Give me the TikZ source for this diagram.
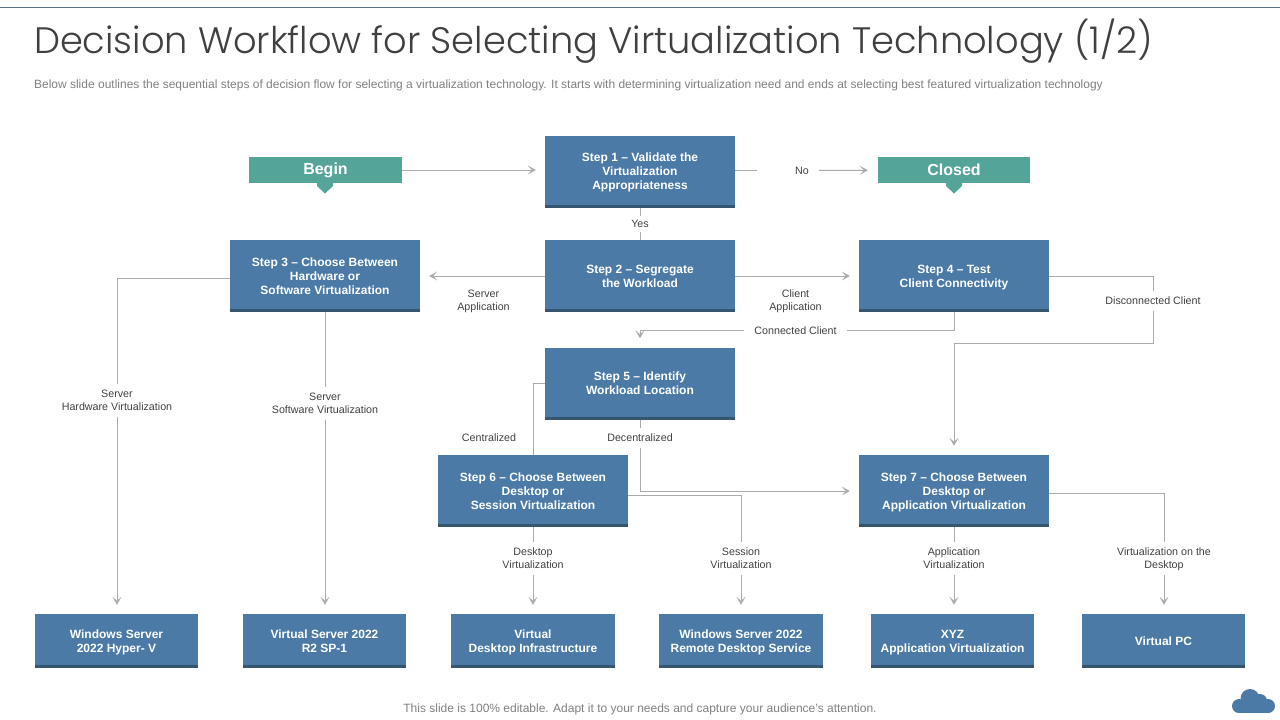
\documentclass[tikz,border=0pt]{standalone}
\usepackage{fontspec}
\setmainfont{Liberation Sans}
\newfontfamily\titlefont{Poppins Light}
\usepackage{xcolor}
\usetikzlibrary{arrows.meta}
\definecolor{stepblue}{HTML}{4A7AA5}
\definecolor{stepdark}{HTML}{36556F}
\definecolor{beginteal}{HTML}{55A49A}
\definecolor{flowgray}{HTML}{ABABAB}
\definecolor{labelgray}{HTML}{404040}
\definecolor{rulegray}{HTML}{5B6F80}

\begin{document}
\begin{tikzpicture}[x=1pt, y=-1pt,
	stepbox/.style={rectangle, fill=stepblue, text=white, inner sep=0pt, align=center, text depth=0pt, minimum width=190pt, minimum height=72pt, font=\fontsize{12}{14}\selectfont\bfseries,
		path picture={\fill[stepdark] (path picture bounding box.south west) rectangle ([yshift=3pt]path picture bounding box.south east);}},
	endbox/.style={stepbox, minimum width=163.5pt, minimum height=54pt},
	startbox/.style={rectangle, fill=beginteal, text=white, inner sep=0pt, minimum width=153pt, minimum height=26pt, font=\fontsize{16}{18}\selectfont\bfseries},
	flowlabel/.style={align=center, inner xsep=10pt, inner ysep=6pt, text depth=0pt, text=labelgray, font=\fontsize{10.7}{13}\selectfont},
	flow/.style={draw=flowgray, line width=1pt},
	flowarrow/.style={flow, -{Stealth[length=8pt, width=9pt, inset=4pt]}, shorten >=9pt}]
			\useasboundingbox (0, 0) rectangle (1280, 720);
			\coordinate(ruleL) at (0, 7);
			\coordinate(ruleR) at (1280, 7);
			\draw[rulegray, line width=0.8pt] (ruleL) -- (ruleR);
			\node(title) at (593.5, 41) {\titlefont\fontsize{36.8}{44}\selectfont\color{labelgray}Decision Workflow for Selecting Virtualization Technology (1/2)};
			\node(subtitle) at (568.5, 85) {\fontsize{12}{14}\selectfont\color{gray}Below slide outlines the sequential steps of decision flow for selecting a virtualization technology. It starts with determining virtualization need and ends at selecting best featured virtualization technology};
			\node(footer) at (640, 709) {\fontsize{12}{14}\selectfont\color{gray}This slide is 100\% editable. Adapt it to your needs and capture your audience's attention.};

			\node[startbox](begin) at (325.5, 170) {Begin};
			\node[startbox, minimum width=152pt](closed) at (954, 170) {Closed};
			\fill[beginteal] (317, 183) -- (333, 183) -- (333, 186) -- (325, 193.5) -- (317, 186) -- cycle;
			\fill[beginteal] (946, 183) -- (962, 183) -- (962, 186) -- (954, 193.5) -- (946, 186) -- cycle;

			\node[stepbox](step1) at (640, 171.5) {Step 1 -- Validate the\\Virtualization\\Appropriateness};
			\node[stepbox](step2) at (640, 276) {Step 2 -- Segregate\\the Workload};
			\node[stepbox](step3) at (325, 276) {Step 3 -- Choose Between\\Hardware or\\Software Virtualization};
			\node[stepbox](step4) at (954, 276) {Step 4 -- Test\\Client Connectivity};
			\node[stepbox](step5) at (640, 383.5) {Step 5 -- Identify\\Workload Location};
			\node[stepbox](step6) at (533, 491) {Step 6 -- Choose Between\\Desktop or\\Session Virtualization};
			\node[stepbox](step7) at (954, 491) {Step 7 -- Choose Between\\Desktop or\\Application Virtualization};

			\node[endbox](hyperv) at (116.5, 641) {Windows Server\\2022 Hyper- V};
			\node[endbox](vserver) at (324.5, 641) {Virtual Server 2022\\R2 SP-1};
			\node[endbox](vdi) at (533, 641) {Virtual\\Desktop Infrastructure};
			\node[endbox](rds) at (741, 641) {Windows Server 2022\\Remote Desktop Service};
			\node[endbox](xyz) at (952.5, 641) {XYZ\\Application Virtualization};
			\node[endbox](vpc) at (1163.5, 641) {Virtual PC};

			\node[flowlabel](no) at (802, 170.5) {No};
			\node[flowlabel, inner ysep=4pt](yes) at (640, 223.7) {Yes};
			\node[flowlabel](serverapp) at (483.5, 300) {Server\\Application};
			\node[flowlabel](clientapp) at (795.5, 300) {Client\\Application};
			\node[flowlabel](disconnected) at (1153, 300.7) {Disconnected Client};
			\node[flowlabel](connected) at (795.5, 330.5) {Connected Client};
			\node[flowlabel](centralized) at (489, 437.7) {Centralized};
			\node[flowlabel](decentralized) at (640, 437.7) {Decentralized};
			\node[flowlabel](hardvirt) at (117, 400.5) {Server\\Hardware Virtualization};
			\node[flowlabel](softvirt) at (325, 403.5) {Server\\Software Virtualization};
			\node[flowlabel](deskvirt) at (533, 558.5) {Desktop\\Virtualization};
			\node[flowlabel](sessvirt) at (741, 558.5) {Session\\Virtualization};
			\node[flowlabel](appvirt) at (954, 558.5) {Application\\Virtualization};
			\node[flowlabel](ondesk) at (1164, 558.5) {Virtualization on the\\Desktop};
			\coordinate(bend) at (954, 343);
			\coordinate(noleft) at (757, 170.5);

			\draw[flowarrow] (begin) -- (begin -| step1.west);
			\draw[flow] (noleft -| step1.east) -- (noleft);
			\draw[flowarrow, shorten >=10pt] (no) -- (closed);
			\draw[flow] (step1) -- (yes);
			\draw[flow] (yes) -- (step2);
			\draw[flowarrow] (step2) -- (step3);
			\draw[flowarrow] (step2) -- (step4);
			\draw[flow] (step4.south) |- (connected);
			\draw[flowarrow] (connected) -| (step5.north);
			\draw[flow] (step4.east) -| (disconnected);
			\draw[flowarrow] (disconnected) |- (bend) -- (step7.north);
			\draw[flow] (step5.west) -| (step6.north);
			\draw[flow] (step5.south) -- (decentralized);
			\draw[flowarrow] (decentralized) |- (step7.west);
			\draw[flow] ([yshift=-2pt]step3.west) -| (hardvirt);
			\draw[flowarrow] (hardvirt) -- (hardvirt |- hyperv.north);
			\draw[flow] (step3.south -| softvirt) -- (softvirt);
			\draw[flowarrow] (softvirt) -- (softvirt |- vserver.north);
			\draw[flow] (step6) -- (deskvirt);
			\draw[flowarrow] (deskvirt) -- (vdi);
			\draw[flow] ([yshift=-4pt]step6.east) -| (sessvirt);
			\draw[flowarrow] (sessvirt) -- (rds);
			\draw[flow] (step7) -- (appvirt);
			\draw[flowarrow] (appvirt) -- (appvirt |- xyz.north);
			\draw[flow] ([yshift=-2pt]step7.east) -| (ondesk);
			\draw[flowarrow] (ondesk) -- (ondesk |- vpc.north);

			\fill[stepblue] (1239, 706) circle[radius=7];
			\fill[stepblue] (1250, 698.5) circle[radius=9.5];
			\fill[stepblue] (1260, 701) circle[radius=7];
			\fill[stepblue] (1268, 706) circle[radius=7];
			\fill[stepblue] (1239, 703) rectangle (1268, 713);
		\end{tikzpicture}
\end{document}
